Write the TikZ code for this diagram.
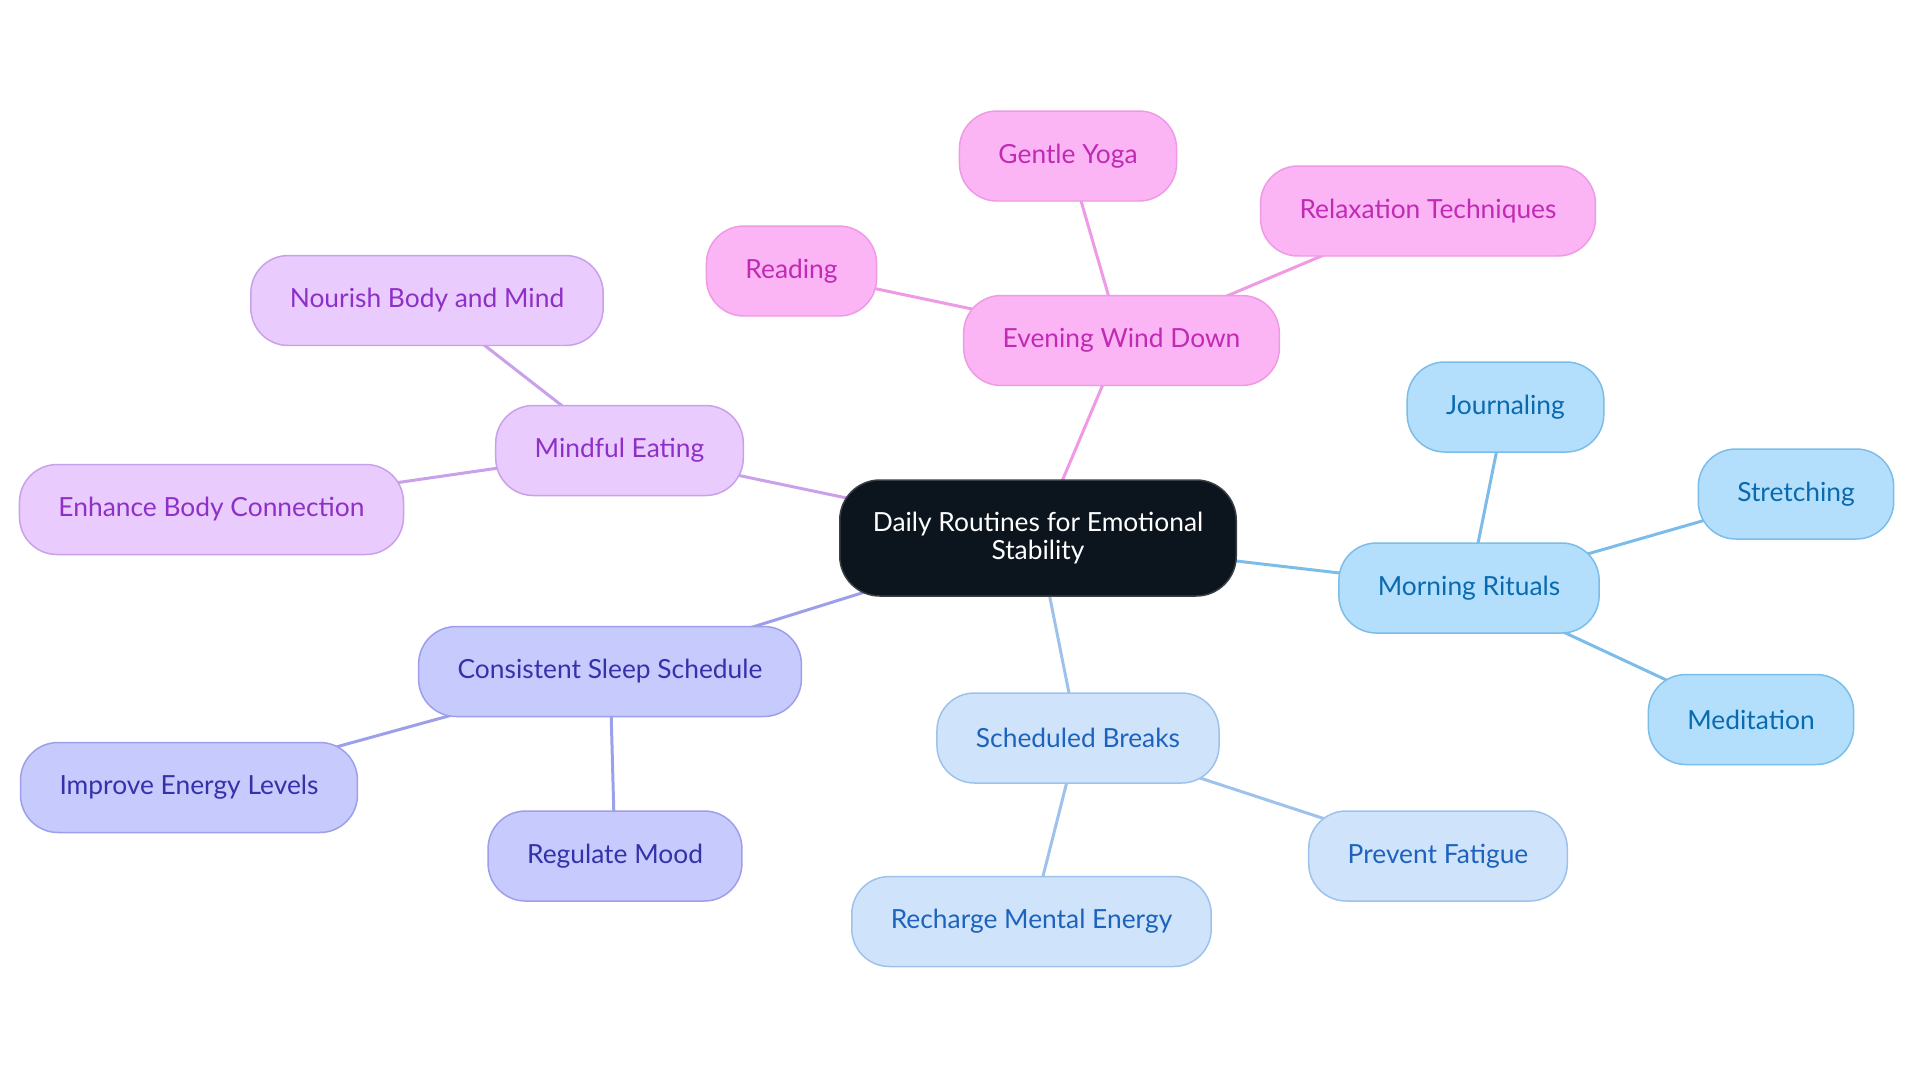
\documentclass[tikz,border=0pt]{standalone}
\usepackage{fontspec}
\setmainfont{Lato}
\usetikzlibrary{backgrounds}

% Couleurs des branches
\definecolor{racineFond}{HTML}{0C151D}
\definecolor{racineBord}{HTML}{3A3F45}
\definecolor{roseFond}{HTML}{FCB5F4}
\definecolor{roseBord}{HTML}{EE9AE4}
\definecolor{roseTexte}{HTML}{C02AB4}
\definecolor{violetFond}{HTML}{E9CBFD}
\definecolor{violetBord}{HTML}{C9A0EA}
\definecolor{violetTexte}{HTML}{8E30C8}
\definecolor{indigoFond}{HTML}{C7CAFD}
\definecolor{indigoBord}{HTML}{9C9FE9}
\definecolor{indigoTexte}{HTML}{3531A8}
\definecolor{bleuFond}{HTML}{CFE3FB}
\definecolor{bleuBord}{HTML}{9DC2EC}
\definecolor{bleuTexte}{HTML}{1D63BE}
\definecolor{cielFond}{HTML}{B3DFFD}
\definecolor{cielBord}{HTML}{7BBDE8}
\definecolor{cielTexte}{HTML}{0A6AAE}

\begin{document}
\begin{tikzpicture}[x=0.02cm,y=-0.02cm,
    bulle/.style={rectangle, rounded corners=0.75cm, minimum height=1.8cm,
      inner xsep=0.78cm, line width=0.85pt, font=\fontsize{15}{15.5}\selectfont},
    racine/.style={bulle, fill=racineFond, draw=racineBord, text=white,
      align=center, minimum height=2.32cm, inner xsep=0.66cm, rounded corners=0.8cm},
    soir/.style={bulle, fill=roseFond, draw=roseBord, text=roseTexte},
    repasb/.style={bulle, fill=violetFond, draw=violetBord, text=violetTexte},
    nuit/.style={bulle, fill=indigoFond, draw=indigoBord, text=indigoTexte},
    pause/.style={bulle, fill=bleuFond, draw=bleuBord, text=bleuTexte},
    matinb/.style={bulle, fill=cielFond, draw=cielBord, text=cielTexte},
    lien/.style={line width=1.7pt, line cap=round}
  ]
    \useasboundingbox (0,0) rectangle (1920,1083);

    % Noeud central
    \node[racine] (centre) at (1038,538) {Daily Routines for Emotional\\Stability};

    % Soirée
    \node[soir] (soiree) at (1121.5,340.5) {Evening Wind Down};
    \node[soir] (yoga) at (1068,156) {Gentle Yoga};
    \node[soir] (relax) at (1428,211) {Relaxation Techniques};
    \node[soir] (lecture) at (791.5,271) {Reading};

    % Repas
    \node[repasb] (repas) at (619.5,450.5) {Mindful Eating};
    \node[repasb] (nourrir) at (427,300.5) {Nourish Body and Mind};
    \node[repasb] (corps) at (211.5,509.5) {Enhance Body Connection};

    % Sommeil
    \node[nuit] (sommeil) at (610,671.5) {Consistent Sleep Schedule};
    \node[nuit] (energie) at (189,787.5) {Improve Energy Levels};
    \node[nuit] (humeur) at (615,856) {Regulate Mood};

    % Pauses
    \node[pause] (pauses) at (1078,738) {Scheduled Breaks};
    \node[pause] (recharge) at (1031.5,921.5) {Recharge Mental Energy};
    \node[pause] (fatigue) at (1438,856) {Prevent Fatigue};

    % Matin
    \node[matinb] (matin) at (1469,588) {Morning Rituals};
    \node[matinb] (journal) at (1505.5,407) {Journaling};
    \node[matinb] (etirement) at (1796,494) {Stretching};
    \node[matinb] (meditation) at (1751,719.5) {Meditation};

    % Liens, sous les bulles
    \begin{pgfonlayer}{background}
      \fill[white] (0,0) rectangle (1920,1083);
      \draw[lien, draw=roseBord] (centre.center) -- (soiree.center);
      \draw[lien, draw=roseBord] (soiree.center) -- (yoga.center);
      \draw[lien, draw=roseBord] (soiree.center) -- (relax.center);
      \draw[lien, draw=roseBord] (soiree.center) -- (lecture.center);
      \draw[lien, draw=violetBord] (centre.center) -- (repas.center);
      \draw[lien, draw=violetBord] (repas.center) -- (nourrir.center);
      \draw[lien, draw=violetBord] (repas.center) -- (corps.center);
      \draw[lien, draw=indigoBord] (centre.center) -- (sommeil.center);
      \draw[lien, draw=indigoBord] (sommeil.center) -- (energie.center);
      \draw[lien, draw=indigoBord] (sommeil.center) -- (humeur.center);
      \draw[lien, draw=bleuBord] (centre.center) -- (pauses.center);
      \draw[lien, draw=bleuBord] (pauses.center) -- (recharge.center);
      \draw[lien, draw=bleuBord] (pauses.center) -- (fatigue.center);
      \draw[lien, draw=cielBord] (centre.center) -- (matin.center);
      \draw[lien, draw=cielBord] (matin.center) -- (journal.center);
      \draw[lien, draw=cielBord] (matin.center) -- (etirement.center);
      \draw[lien, draw=cielBord] (matin.center) -- (meditation.center);
    \end{pgfonlayer}
\end{tikzpicture}
\end{document}
